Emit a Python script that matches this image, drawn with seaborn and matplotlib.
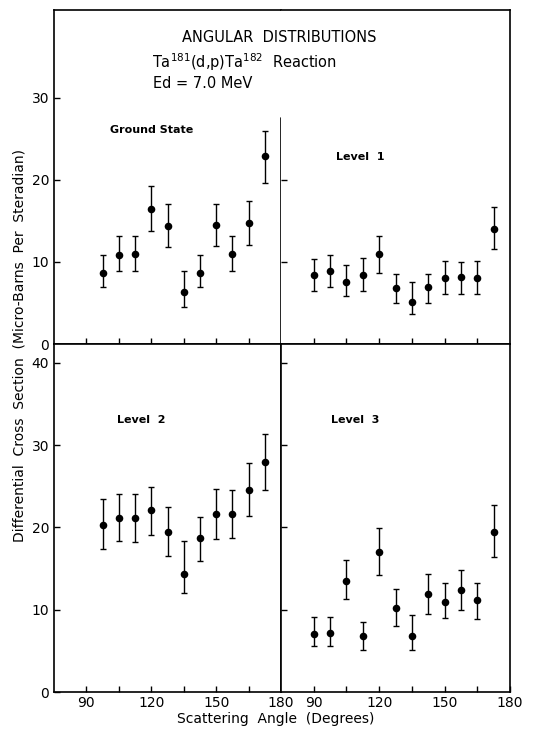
import numpy as np
import pandas as pd
import matplotlib
matplotlib.use("Agg")
import matplotlib.pyplot as plt
import seaborn as sns

# Sudut hamburan (derajat)
sudut_11 = [97.5, 105, 112.5, 120, 127.5, 135, 142.5, 150, 157.5, 165, 172.5]
sudut_12 = [90, 97.5, 105, 112.5, 120, 127.5, 135, 142.5, 150, 157.5, 165, 172.5]

# Ground State
gs_nilai = [8.7, 10.9, 11.0, 16.5, 14.4, 6.3, 8.7, 14.5, 11.0, 14.8, 22.9]
gs_atas = [10.8, 13.1, 13.1, 19.2, 17.0, 8.9, 10.8, 17.1, 13.1, 17.4, 26.0]
gs_bawah = [6.9, 8.9, 8.9, 13.8, 11.8, 4.5, 6.9, 11.9, 8.9, 12.1, 19.6]

# Level 1
l1_nilai = [8.4, 8.9, 7.55, 8.4, 11.0, 6.8, 5.1, 6.9, 8.1, 8.2, 8.0, 14.0]
l1_atas = [10.4, 10.9, 9.6, 10.5, 13.1, 8.5, 7.5, 8.5, 10.1, 10.0, 10.1, 16.7]
l1_bawah = [6.5, 7.0, 5.8, 6.5, 8.7, 5.0, 3.6, 5.0, 6.1, 6.1, 6.1, 11.6]

# Level 2
l2_nilai = [20.3, 21.1, 21.2, 22.1, 19.5, 14.3, 18.7, 21.6, 21.6, 24.6, 28.0]
l2_atas = [23.4, 24.1, 24.1, 24.9, 22.5, 18.3, 21.3, 24.7, 24.6, 27.8, 31.3]
l2_bawah = [17.4, 18.3, 18.2, 19.1, 16.5, 12.0, 15.9, 18.6, 18.7, 21.4, 24.6]

# Level 3
l3_nilai = [7.1, 7.2, 13.5, 6.75, 17.0, 10.2, 6.8, 11.9, 11.0, 12.4, 11.2, 19.5]
l3_atas = [9.1, 9.1, 16.1, 8.5, 19.9, 12.5, 9.3, 14.3, 13.2, 14.8, 13.2, 22.7]
l3_bawah = [5.6, 5.6, 11.3, 5.1, 14.2, 8.0, 5.1, 9.5, 9.0, 10.0, 8.9, 16.4]

sns.set_style("ticks")
plt.rcParams['font.family'] = ['DejaVu Sans']
plt.rcParams['text.color'] = 'black'
plt.rcParams['axes.labelcolor'] = 'black'

W, H = 551, 730
fig = plt.figure(figsize=(W / 100, H / 100), dpi=100)


def kotak(x0, y0, x1, y1):
    # konversi piksel ke koordinat figure
    return [x0 / W, 1 - y1 / H, (x1 - x0) / W, (y1 - y0) / H]


ax_tl = fig.add_axes(kotak(54, 10, 281, 344))
ax_tr = fig.add_axes(kotak(281, 10, 510, 344))
ax_bl = fig.add_axes(kotak(54, 344, 281, 692))
ax_br = fig.add_axes(kotak(281, 344, 510, 692))

panel = [
    (ax_tl, sudut_11, gs_nilai, gs_atas, gs_bawah, 40.7),
    (ax_tr, sudut_12, l1_nilai, l1_atas, l1_bawah, 40.7),
    (ax_bl, sudut_11, l2_nilai, l2_atas, l2_bawah, 42.3),
    (ax_br, sudut_12, l3_nilai, l3_atas, l3_bawah, 42.3),
]

for ax, x, y, up, lo, ymax in panel:
    df = pd.DataFrame({'sudut': x, 'nilai': y})
    y = np.array(y)
    yerr = [y - np.array(lo), np.array(up) - y]
    ax.errorbar(x, y, yerr=yerr, fmt='none', ecolor='black', elinewidth=1.0,
                capsize=2.2, capthick=1.0)
    sns.scatterplot(data=df, x='sudut', y='nilai', ax=ax, color='black',
                    s=30, edgecolor='black', linewidth=0, zorder=3)
    ax.set_xlim(75, 180)
    ax.set_ylim(0, ymax)
    ax.set_xlabel('')
    ax.set_ylabel('')
    for sp in ax.spines.values():
        sp.set_linewidth(1.2)
        sp.set_color('black')
    ax.tick_params(which='both', direction='in', length=4, width=1.0,
                   labelsize=10, colors='black')
    ax.set_xticks([90, 120, 150, 180])
    ax.set_xticks([105, 135, 165], minor=True)

# panel atas
ax_tl.spines['right'].set_visible(False)
ax_tr.spines['left'].set_visible(False)
ax_tl.set_yticks([0, 10, 20, 30])
ax_tr.set_yticks([10, 20])
ax_tr.set_yticklabels([])
for ax in (ax_tl, ax_tr):
    ax.set_xticks([90, 120, 150])
    ax.set_xticklabels([])
# garis pemisah di panel atas
ax_tl.plot([180, 180], [0, 27.6], color='black', lw=1.2, clip_on=False)

# panel bawah
ax_bl.set_yticks([0, 10, 20, 30, 40])
ax_br.set_yticks([10, 20, 30, 40])
ax_br.set_yticklabels([])
for ax in (ax_bl, ax_br):
    ax.set_xticklabels(['90', '120', '150', '180'])
    ax.tick_params(axis='x', pad=3)

# label panel
fig.text(110 / W, 1 - 130 / H, 'Ground State', fontsize=8, fontweight='bold',
         ha='left', va='center')
fig.text(336 / W, 1 - 157 / H, 'Level  1', fontsize=8, fontweight='bold',
         ha='left', va='center')
fig.text(117 / W, 1 - 420 / H, 'Level  2', fontsize=8, fontweight='bold',
         ha='left', va='center')
fig.text(331 / W, 1 - 420 / H, 'Level  3', fontsize=8, fontweight='bold',
         ha='left', va='center')

# judul
fig.text(182 / W, 1 - 37 / H, 'ANGULAR  DISTRIBUTIONS', fontsize=10.5,
         ha='left', va='center')
fig.text(152 / W, 1 - 62 / H, r'Ta$^{181}$(d,p)Ta$^{182}$  Reaction',
         fontsize=10.5, ha='left', va='center')
fig.text(153 / W, 1 - 84 / H, 'Ed = 7.0 MeV', fontsize=10.5,
         ha='left', va='center')

# label sumbu
fig.text(20 / W, 1 - 345 / H,
         'Differential  Cross  Section  (Micro-Barns  Per  Steradian)',
         rotation=90, fontsize=10, ha='center', va='center')
fig.text(276 / W, 1 - 719 / H, 'Scattering  Angle  (Degrees)', fontsize=10,
         ha='center', va='center')

plt.savefig('out.png', dpi=100)
